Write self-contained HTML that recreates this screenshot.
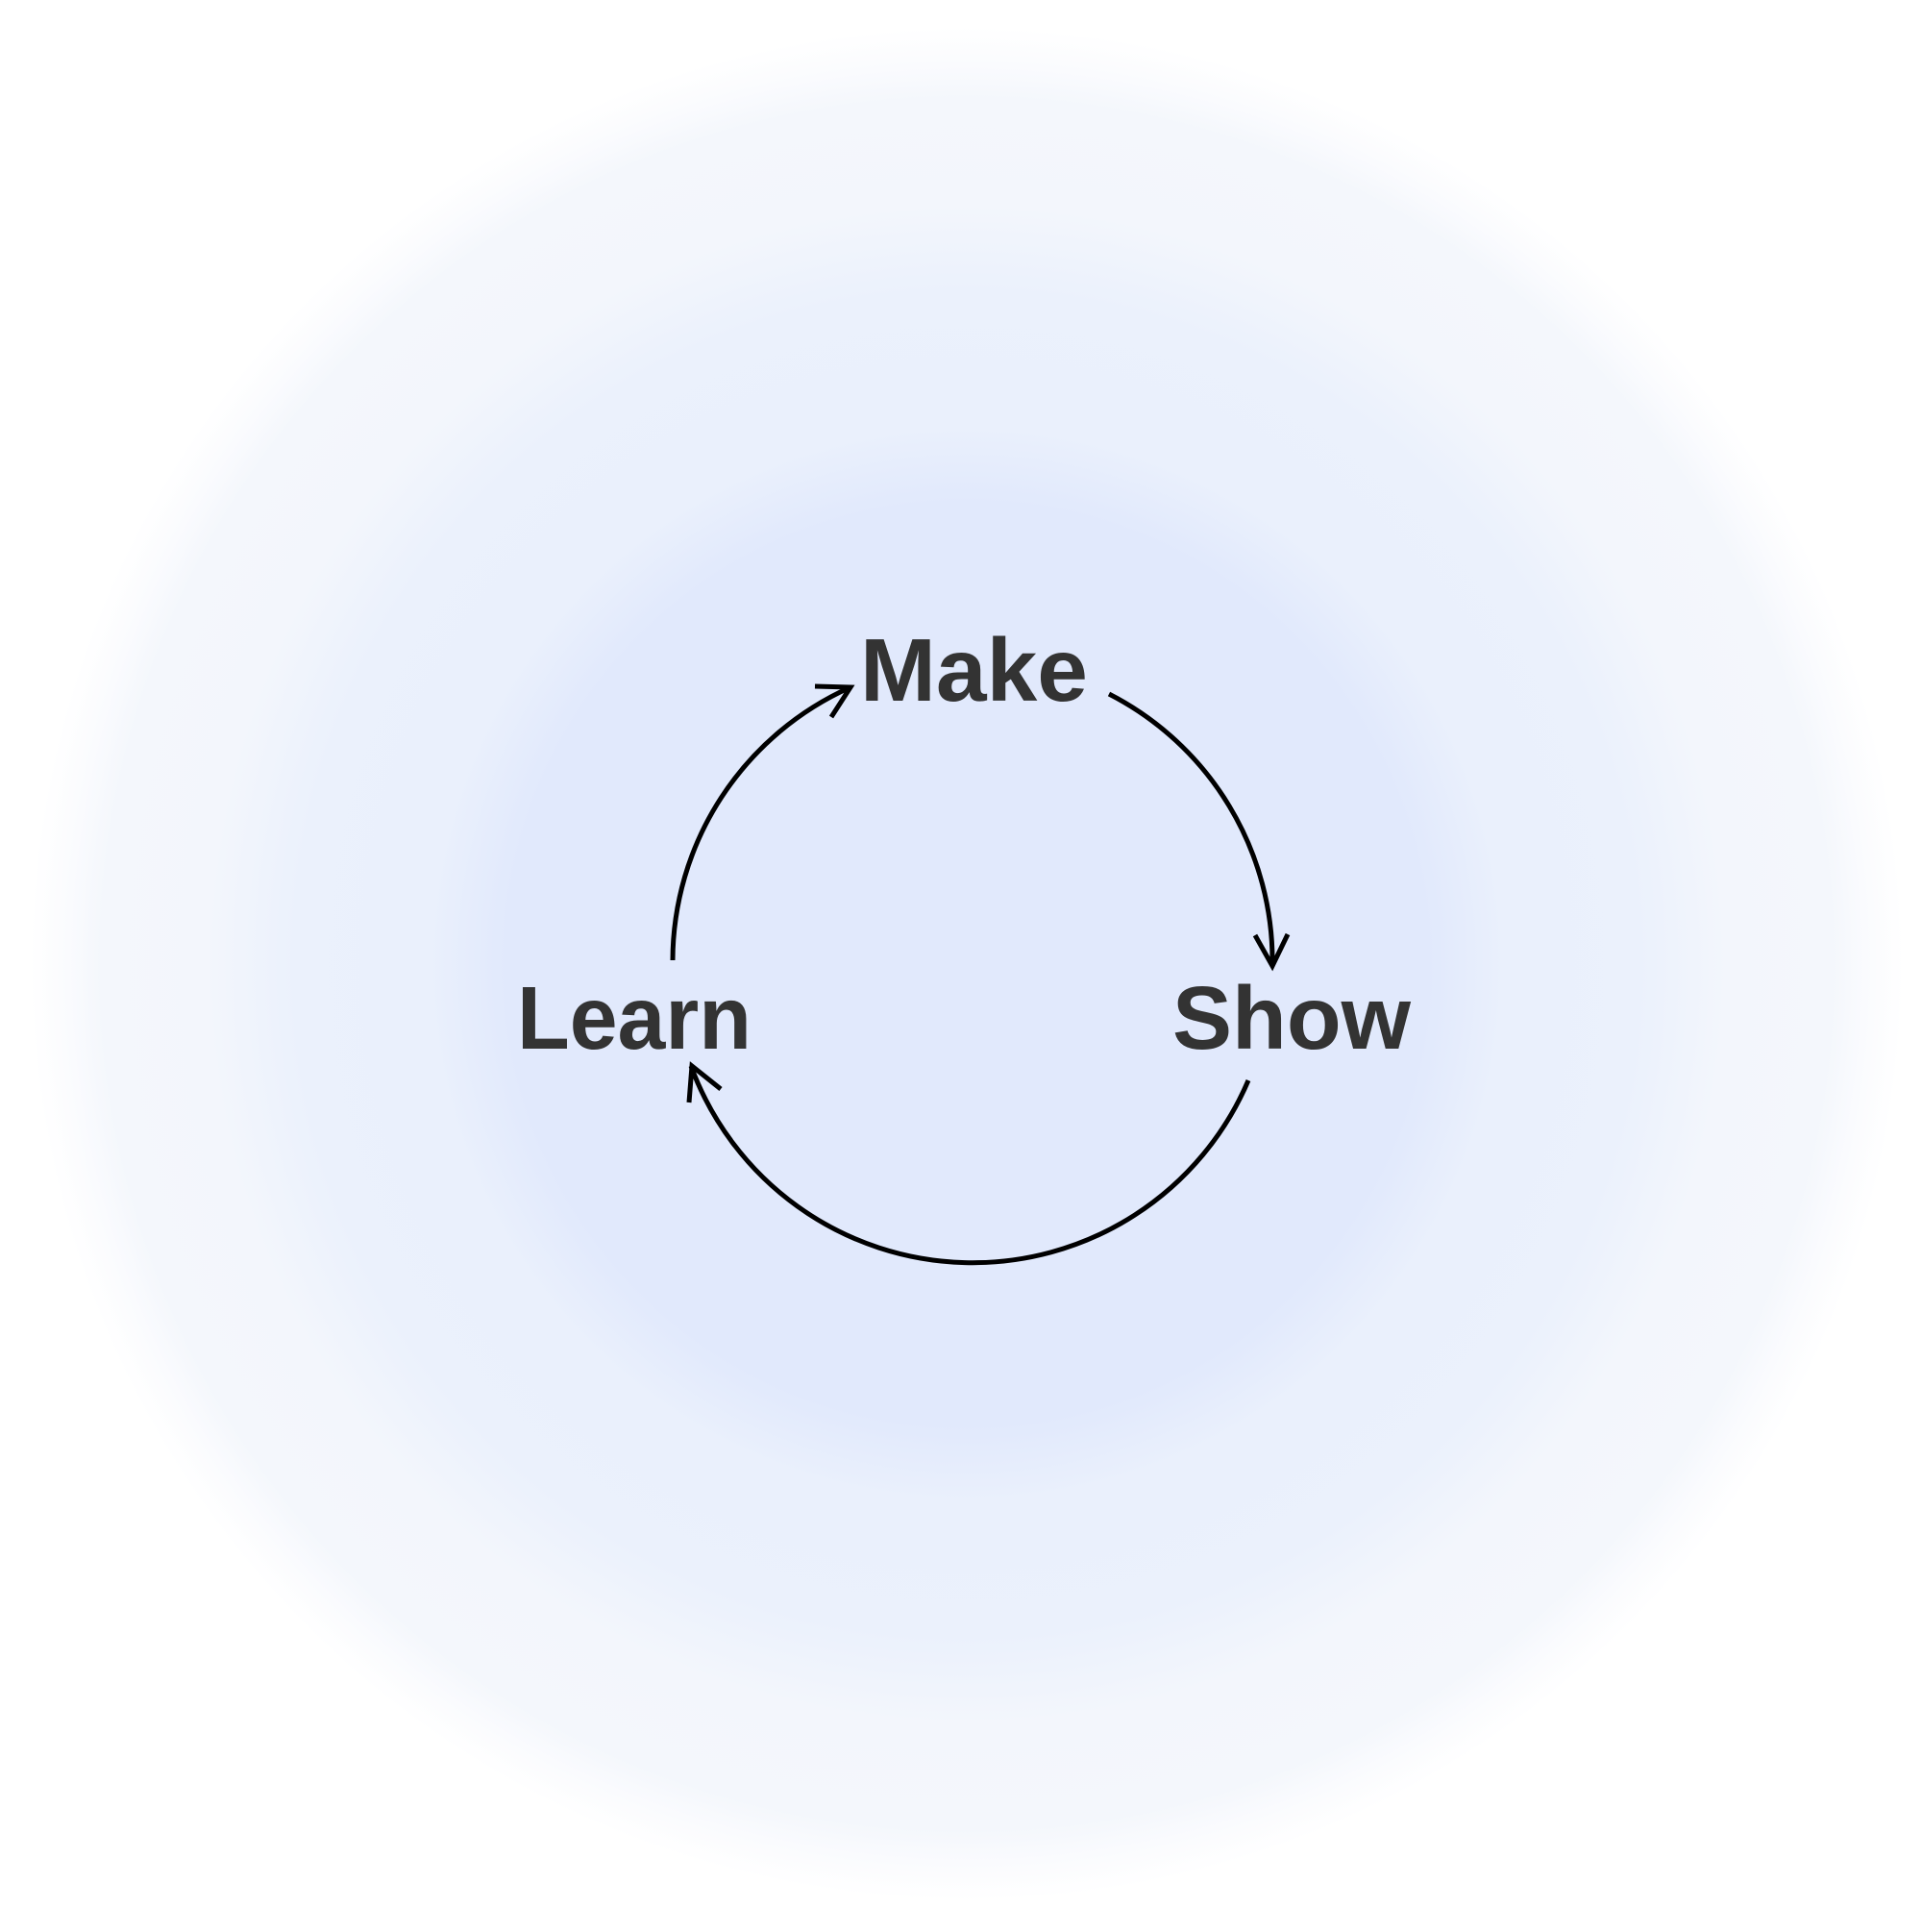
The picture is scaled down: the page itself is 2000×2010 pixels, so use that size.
<!DOCTYPE html>
<html><head><meta charset="utf-8"><style>
html,body{margin:0;padding:0;width:2000px;height:2010px;overflow:hidden;background:#fff}
#bg{position:absolute;left:0;top:0;width:2000px;height:2010px;
background:radial-gradient(circle at 1006px 1003px,#e1e9fc 0px,#e1e9fc 480px,#eaf0fc 560px,#ebf1fc 700px,#f3f6fc 790px,#f4f7fc 900px,#fafbfe 935px,#ffffff 975px);}
svg{position:absolute;left:0;top:0}
text{font-family:"Liberation Sans",Arial,sans-serif;font-weight:bold;font-size:93px;fill:#333}
</style></head><body>
<div id="bg"></div>
<svg width="2000" height="2010" viewBox="0 0 2000 2010">
<text x="895" y="729" textLength="237" lengthAdjust="spacingAndGlyphs">Make</text>
<text x="538" y="1091" textLength="244" lengthAdjust="spacingAndGlyphs">Learn</text>
<text x="1220" y="1091" textLength="248" lengthAdjust="spacingAndGlyphs">Show</text>
<g fill="none" stroke="#000" stroke-width="5">
<path d="M700 999 A312 312 0 0 1 885 715"/>
<path d="M848 714 L885 715 L865 746"/>
<path d="M1154 722 A312 312 0 0 1 1324 1004"/>
<path d="M1306 973 L1324 1005 L1340 972"/>
<path d="M1299 1124 A312 312 0 0 1 719 1109"/>
<path d="M717 1147 L720 1109 L750 1133"/>
</g>
</svg>
</body></html>
